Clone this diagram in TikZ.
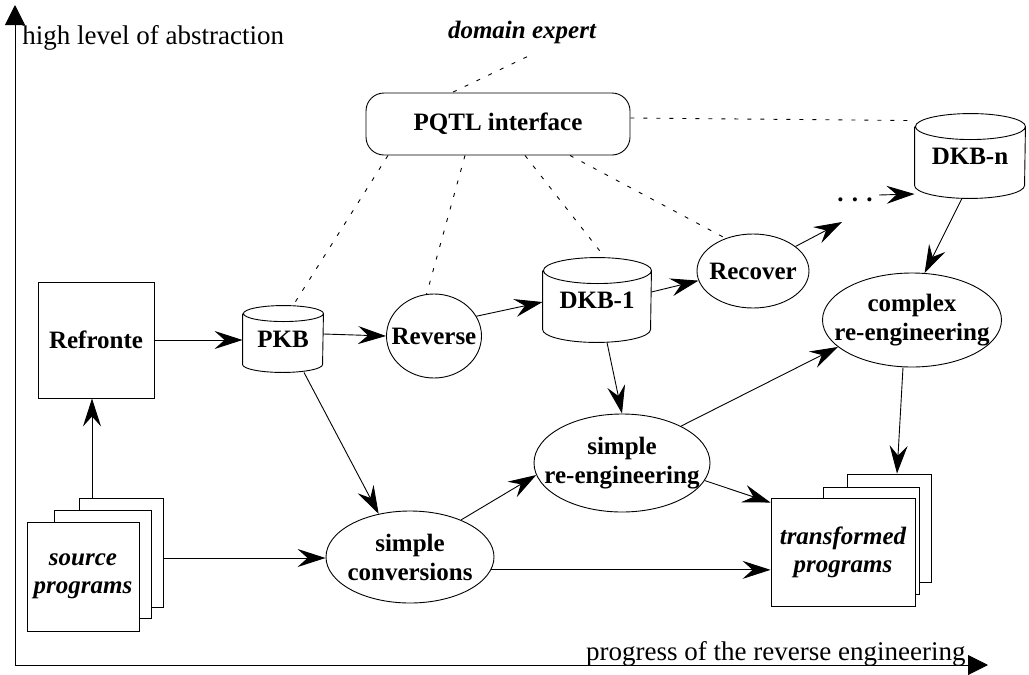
\documentclass[tikz,border=0pt]{standalone}
\usepackage{fontspec}
\setmainfont{Liberation Serif}
\usetikzlibrary{arrows.meta,shapes.geometric}

% outline of a database drum drawn over a (border-less) rectangular node
% #1 node name, #2 half width, #3 vertical radius of the end ellipses
\newcommand\drumshape[3]{%
  \draw ([yshift=-#3]#1.north west) -- ([yshift=#3]#1.south west)
    arc[start angle=180,end angle=360,x radius=#2,y radius=#3]
    -- ([yshift=-#3]#1.north east)
    arc[start angle=0,end angle=360,x radius=#2,y radius=#3];}

\tikzset{
  lab/.style={font=\fontsize{25}{29}\selectfont\bfseries, align=center, inner sep=0pt},
  itlab/.style={font=\fontsize{25}{28}\selectfont\bfseries\itshape, align=center},
  axislab/.style={font=\fontsize{27}{30}\selectfont, inner sep=0pt},
  ell/.style={ellipse, draw, inner sep=0pt},
  sheet/.style={rectangle, draw, fill=white, inner sep=0pt},
  drum/.style={rectangle, inner sep=0pt, font=\fontsize{25}{29}\selectfont\bfseries},
  arr/.style={-{Stealth[length=28pt,width=18pt,inset=10pt]}},
  axisline/.style={line width=1pt, -{Triangle[length=20pt,width=20pt]}},
  expertlink/.style={dash pattern=on 4pt off 9pt},
}

\begin{document}
\begin{tikzpicture}[x=1pt, y=-1pt, line width=0.9pt]
\useasboundingbox (0,0) rectangle (1029,675);

% axes
\coordinate (origin) at (15,665);
\coordinate (ytop) at (15,5);
\coordinate (xend) at (988,665);
\draw[axisline] (origin) -- (ytop);
\draw[axisline] (origin) -- (xend);
\node[axislab, anchor=base west] (ylab) at (22,44) {high level of abstraction};
\node[axislab, anchor=base east] (xlab) at (966,660) {progress of the reverse engineering};

% expert and query interface
\node[itlab, inner sep=0pt, anchor=base] (dom) at (522,38) {domain expert};
\node[draw, rounded corners=18pt, minimum width=264pt, minimum height=62pt, lab] (pqtl) at (498,124) {PQTL interface};

% front end
\node[draw, minimum width=116pt, minimum height=116pt, lab] (refronte) at (96,340) {Refronte};

% source program stack
\node[sheet, minimum width=84pt, minimum height=109pt] (src3) at (121,552.5) {};
\node[sheet, minimum width=97pt, minimum height=108pt] (src2) at (102.5,564) {};
\node[sheet, minimum width=112pt, minimum height=109pt, itlab] (src) at (83,576.5) {source\\programs};

% transformed program stack
\node[sheet, minimum width=84pt, minimum height=108pt] (tr3) at (889,528) {};
\node[sheet, minimum width=96pt, minimum height=107pt] (tr2) at (871,540.5) {};
\node[sheet, minimum width=144pt, minimum height=108pt, itlab] (tr) at (843,552) {transformed\\programs};

% knowledge bases
\node[drum, minimum width=80pt, minimum height=66pt] (pkb) at (283,339) {PKB};
\node[drum, minimum width=108pt, minimum height=84pt] (dkb1) at (597,300) {DKB-1};
\node[drum, minimum width=110pt, minimum height=84pt] (dkbn) at (970,156) {DKB-n};
\drumshape{pkb}{40pt}{8pt}
\drumshape{dkb1}{54pt}{13pt}
\drumshape{dkbn}{55pt}{13pt}

% processes
\node[ell, minimum width=95pt, minimum height=84pt, label={[lab]center:Reverse}] (reverse) at (434,336) {};
\node[ell, minimum width=112pt, minimum height=74pt, label={[lab]center:Recover}] (recover) at (753,271) {};
\node[ell, minimum width=176pt, minimum height=98pt, label={[lab]center:{simple\\re-engineering}}] (sre) at (622,463) {};
\node[ell, minimum width=168pt, minimum height=92pt, label={[lab]center:{simple\\conversions}}] (conv) at (410,557) {};
\node[ell, minimum width=179pt, minimum height=94pt, label={[lab]center:{complex\\re-engineering}}] (cplx) at (912,320) {};

\node[lab] (dots) at (855,200) {.\,\,.\,\,.};
\coordinate (dotsin) at (842,222);
\coordinate (dotsout) at (879,195);
\coordinate (upline) at (92,0);

% expert links
\draw[expertlink] ([xshift=5pt,yshift=-13pt]dom.south) -- ([xshift=-46pt]pqtl.north);
\draw[expertlink] ([yshift=6pt]pqtl.east) -- ([yshift=-7pt]dkbn.north west);
\draw[expertlink] ([xshift=-110pt]pqtl.south) -- ([xshift=10pt]pkb.north);
\draw[expertlink] ([xshift=-33pt]pqtl.south) -- (reverse.100);
\draw[expertlink] ([xshift=27pt]pqtl.south) -- ([xshift=8pt]dkb1.north);
\draw[expertlink] ([xshift=72pt]pqtl.south) -- (recover.130);

% data flow
\draw[arr] (src3.north -| upline) -- (refronte.south -| upline);
\draw[arr] (refronte.east) -- (refronte.east -| pkb.west);
\draw[arr] ([yshift=5pt]pkb.east) -- (reverse.west);
\draw[arr] (reverse.25) -- ([yshift=-2pt]dkb1.west);
\draw[arr] ([yshift=8pt]dkb1.east) -- (recover.190);
\draw[arr] (recover.30) -- (dotsin);
\draw[arr] (dotsout) -- ([yshift=-38pt]dkbn.west);
\draw[arr] ([xshift=-8pt]dkbn.south) -- (cplx.75);
\draw[arr] ([xshift=10pt]dkb1.south) -- (sre.north);
\draw[arr] ([xshift=21pt]pkb.south) -- (conv.126);
\draw[arr] (src3.east |- 0,558) -- (conv.west |- 0,558);
\draw[arr] (conv.36) -- (sre.188);
\draw[arr] (conv.-9) -- (conv.-9 -| tr.west);
\draw[arr] (sre.-12) -- ([yshift=-5pt]tr.north west);
\draw[arr] (sre.32) -- (cplx.200);
\draw[arr] ([xshift=-9pt]cplx.south) -- ([xshift=8pt]tr3.north);
\end{tikzpicture}
\end{document}
